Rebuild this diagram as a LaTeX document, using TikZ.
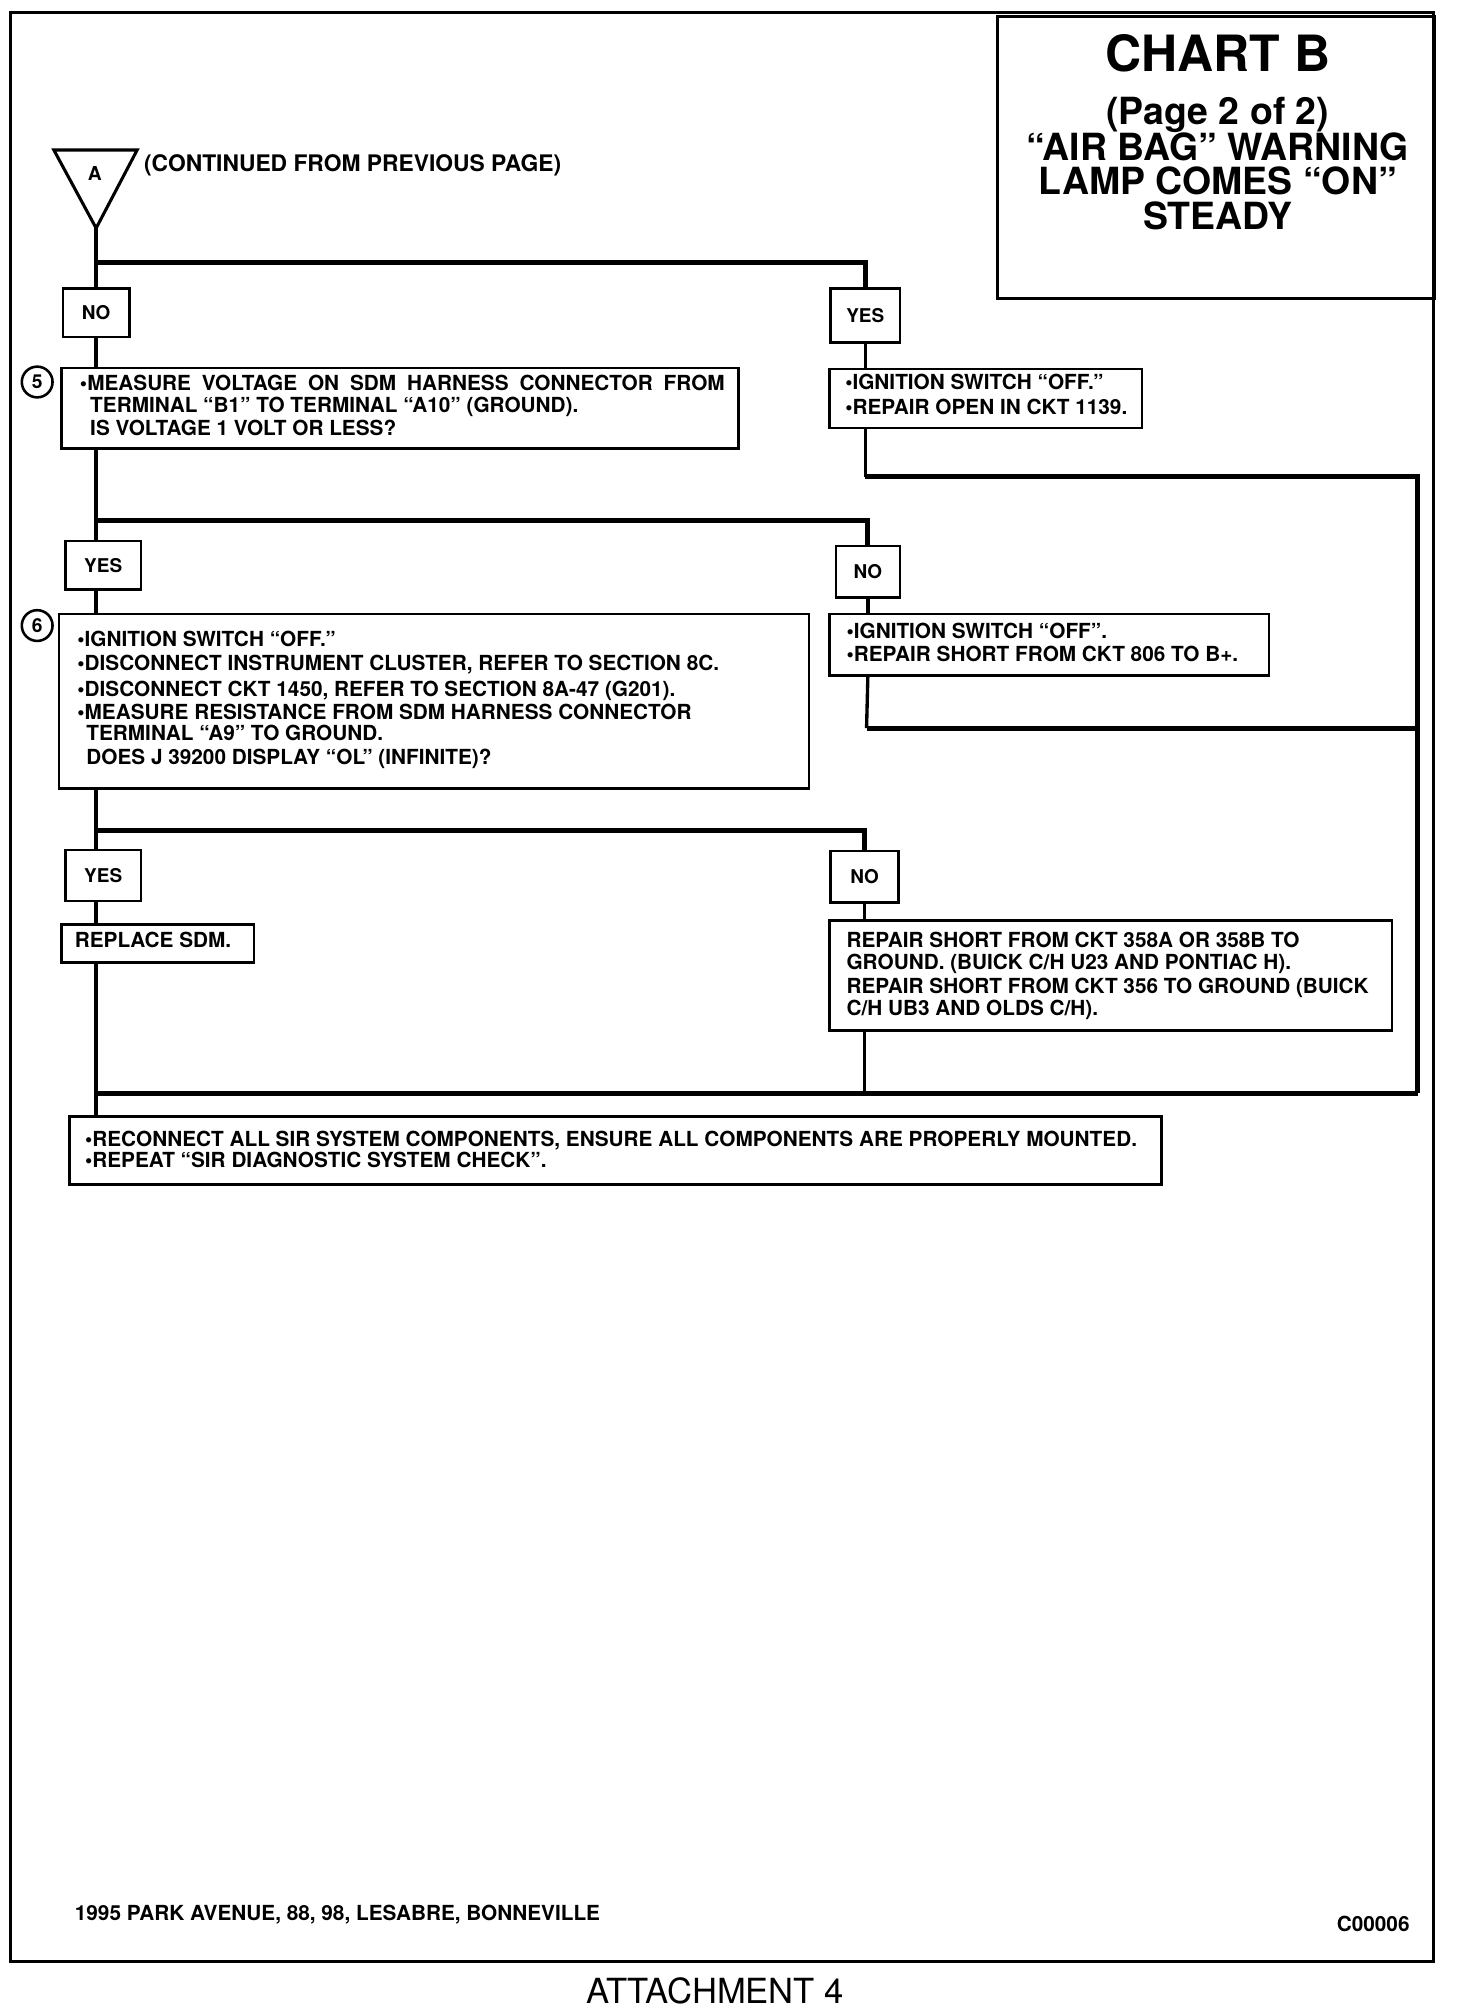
\documentclass[tikz,border=0pt]{standalone}
\usepackage{fontspec}
\setmainfont{TeX Gyre Heros}
\usetikzlibrary{calc}
\begin{document}
\begin{tikzpicture}[x=0.5pt,y=-0.5pt,
  box/.style={draw, line width=1pt, inner sep=0pt, anchor=north west},
  lbl/.style={box, font=\bfseries\fontsize{7.4}{8}\selectfont},
  tx/.style={anchor=base west, inner sep=0pt, font=\bfseries\fontsize{8.1}{9}\selectfont},
  ttl/.style={anchor=base, inner sep=0pt, font=\bfseries\fontsize{14.6}{16}\selectfont},
  wire/.style={line width=1.3pt},
  bus/.style={line width=2pt},
  num/.style={circle, draw, line width=1pt, minimum size=12pt, inner sep=0pt, font=\bfseries\fontsize{7.5}{8}\selectfont}]
\useasboundingbox (0,0) rectangle (1136,1568);
% frame
\draw[line width=1.2pt] (8,10) rectangle (1118,1530);
\node[box, minimum width=170.5pt, minimum height=110pt] (title) at (777,12) {};
\node[ttl, font=\bfseries\fontsize{19.5}{20}\selectfont] (t1) at (950,56) {CHART B};
\node[ttl] (t2) at (950,97) {(Page 2 of 2)};
\node[ttl] (t3) at (950,125) {“AIR BAG” WARNING};
\node[ttl] (t4) at (950,152) {LAMP COMES “ON”};
\node[ttl] (t5) at (950,179) {STEADY};
% triangle A
\draw[line width=1.2pt] (42,117) -- (107,117) -- (75,178) -- cycle;
\coordinate (tri) at (75,178);
\node[font=\bfseries\fontsize{7.5}{8}\selectfont, inner sep=0pt] (a) at (74,135) {A};
\node[tx, font=\bfseries\fontsize{8.9}{10}\selectfont] (cont) at (112,134) {(CONTINUED FROM PREVIOUS PAGE)};
% level 1
\node[lbl, minimum width=26pt, minimum height=19pt] (no1) at (48,224) {NO};
\node[lbl, minimum width=27pt, minimum height=21pt] (yes1) at (647,224) {YES};
\node[num] (c5) at (29,298) {5};
\node[box, minimum width=264pt, minimum height=31.5pt] (b5) at (47,286) {};
\node[tx] (b5a) at (62,305) {\makebox[251.5pt][s]{•MEASURE VOLTAGE ON SDM HARNESS CONNECTOR FROM}};
\node[tx] (b5b) at (70,322) {TERMINAL “B1” TO TERMINAL “A10” (GROUND).};
\node[tx] (b5c) at (70,340) {IS VOLTAGE 1 VOLT OR LESS?};
\node[box, minimum width=122pt, minimum height=23pt] (r1) at (646,287) {};
\node[tx] (r1a) at (659,304) {•IGNITION SWITCH “OFF.”};
\node[tx] (r1b) at (659,323) {•REPAIR OPEN IN CKT 1139.};
% level 2
\node[lbl, minimum width=29.5pt, minimum height=19pt] (yes2) at (50,421) {YES};
\node[lbl, minimum width=25pt, minimum height=20pt] (no2) at (651,425) {NO};
\node[num] (c6) at (29,488) {6};
\node[box, minimum width=292.5pt, minimum height=68pt] (b6) at (45,478) {};
\node[tx] (b6a) at (60,504) {•IGNITION SWITCH “OFF.”};
\node[tx] (b6b) at (60,523) {•DISCONNECT INSTRUMENT CLUSTER, REFER TO SECTION 8C.};
\node[tx] (b6c) at (60,543) {•DISCONNECT CKT 1450, REFER TO SECTION 8A-47 (G201).};
\node[tx] (b6d) at (60,561) {•MEASURE RESISTANCE FROM SDM HARNESS CONNECTOR};
\node[tx] (b6e) at (67,578) {TERMINAL “A9” TO GROUND.};
\node[tx] (b6f) at (67,596) {DOES J 39200 DISPLAY “OL” (INFINITE)?};
\node[box, minimum width=171.5pt, minimum height=24pt] (r2) at (646,478) {};
\node[tx] (r2a) at (660,498) {•IGNITION SWITCH “OFF”.};
\node[tx] (r2b) at (660,516) {•REPAIR SHORT FROM CKT 806 TO B+.};
% level 3
\node[lbl, minimum width=29.5pt, minimum height=20pt] (yes3) at (50,662) {YES};
\node[lbl, minimum width=26.5pt, minimum height=20pt] (no3) at (647,663) {NO};
\node[box, minimum width=75pt, minimum height=15pt] (rep) at (47,720) {};
\node[tx] (repa) at (58,739) {REPLACE SDM.};
\node[box, minimum width=219.5pt, minimum height=43pt] (r3) at (646,717) {};
\node[tx] (r3a) at (660,739) {REPAIR SHORT FROM CKT 358A OR 358B TO};
\node[tx] (r3b) at (660,756) {GROUND. (BUICK C/H U23 AND PONTIAC H).};
\node[tx] (r3c) at (660,775) {REPAIR SHORT FROM CKT 356 TO GROUND (BUICK};
\node[tx] (r3d) at (660,792) {C/H UB3 AND OLDS C/H).};
% final
\node[box, minimum width=426pt, minimum height=26.5pt] (fin) at (53,870) {};
\node[tx] (fina) at (66,894) {•RECONNECT ALL SIR SYSTEM COMPONENTS, ENSURE ALL COMPONENTS ARE PROPERLY MOUNTED.};
\node[tx] (finb) at (66,911) {•REPEAT “SIR DIAGNOSTIC SYSTEM CHECK”.};
% footer
\node[tx] (foot) at (58,1498) {1995 PARK AVENUE, 88, 98, LESABRE, BONNEVILLE};
\node[tx, anchor=base east] (code) at (1100,1507) {C00006};
\node[anchor=base, inner sep=0pt, font=\fontsize{13.5}{14}\selectfont] (att) at (558,1563) {ATTACHMENT 4};
% junctions
\coordinate (j1) at (75,205);
\coordinate (j2) at (75,406);
\coordinate (j3) at (75,648);
\coordinate (m1) at (75,853);
\coordinate (rt) at (1106,372);
\coordinate (rb) at (1106,853);
% connectors
\draw[wire] (tri) -- (tri |- no1.north);
\draw[bus] (j1) -| (yes1.north);
\draw[wire] (tri |- no1.south) -- (tri |- b5.north);
\draw[wire] (yes1.south) -- (yes1.south |- r1.north);
\draw[wire] (yes1.south |- r1.south) -- (yes1.south |- rt);
\draw[bus] (yes1.south |- rt) -- (rt) -- (rb);
\draw[wire] (tri |- b5.south) -- (j2);
\draw[bus] (j2) -| (no2.north);
\draw[wire] (j2) -- (j2 |- yes2.north);
\draw[wire] (j2 |- yes2.south) -- (j2 |- b6.north);
\draw[wire] (no2.south) -- (no2.south |- r2.north);
\draw[wire] (no2.south |- r2.south) -- (676,568);
\draw[bus] (676,568) -- (rt |- 0,568);
\draw[wire] (j2 |- b6.south) -- (j3);
\draw[bus] (j3) -| (no3.north);
\draw[wire] (j3) -- (j3 |- yes3.north);
\draw[wire] (j3 |- yes3.south) -- (j3 |- rep.north);
\draw[wire] (no3.south) -- (no3.south |- r3.north);
\draw[wire] (j3 |- rep.south) -- (j3 |- fin.north);
\draw[wire] (no3.south |- r3.south) -- (no3.south |- m1);
\draw[bus] (m1) -- (rb);
\end{tikzpicture}
\end{document}
